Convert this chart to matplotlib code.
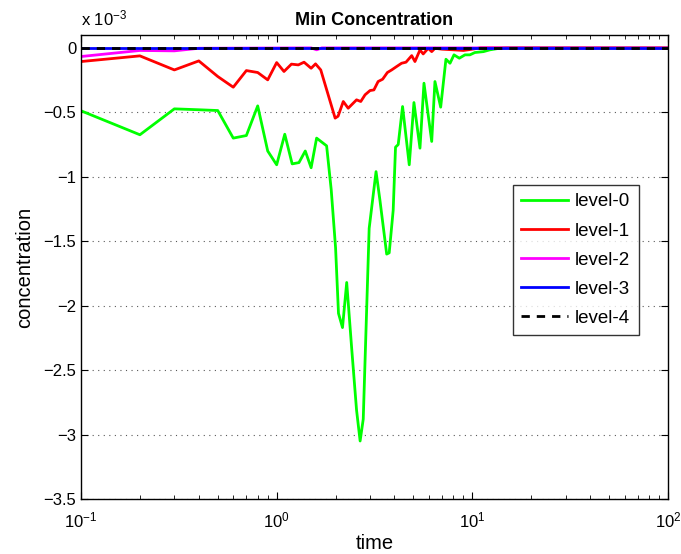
import matplotlib
matplotlib.use("Agg")
import matplotlib.pyplot as plt
from matplotlib.ticker import FuncFormatter, LogLocator, FixedLocator

plt.rcParams['font.family'] = ['Liberation Sans', 'DejaVu Sans']
plt.rcParams['mathtext.fontset'] = 'custom'
plt.rcParams['mathtext.rm'] = 'Liberation Sans'
plt.rcParams['mathtext.it'] = 'Liberation Sans:italic'
plt.rcParams['mathtext.bf'] = 'Liberation Sans:bold'

# values in units of 1e-3
t_level0 = [0.1, 0.2, 0.3, 0.4, 0.5, 0.6, 0.7, 0.8, 0.9, 1.0, 1.1, 1.2, 1.3, 1.4, 1.5, 1.6,
            1.8, 1.9, 2.0, 2.07, 2.17, 2.28, 2.42, 2.56, 2.67, 2.77, 2.97, 3.22, 3.37, 3.65,
            3.76, 3.94, 4.05, 4.18, 4.40, 4.76, 5.03, 5.40, 5.66, 6.20, 6.44, 6.89, 7.33,
            7.69, 8.06, 8.58, 9.17, 9.72, 10.3, 11.4, 12.3, 13.5, 15.0, 20.0, 50.0, 100.0]
c_level0 = [-0.488, -0.674, -0.473, -0.48, -0.486, -0.70, -0.68, -0.45, -0.80, -0.907,
            -0.67, -0.90, -0.89, -0.80, -0.93, -0.70, -0.76, -1.10, -1.55, -2.06, -2.17,
            -1.82, -2.34, -2.81, -3.05, -2.88, -1.40, -0.96, -1.18, -1.60, -1.59, -1.26,
            -0.77, -0.75, -0.455, -0.907, -0.424, -0.778, -0.274, -0.726, -0.261, -0.46,
            -0.088, -0.119, -0.054, -0.08, -0.054, -0.054, -0.036, -0.029, -0.015, -0.005,
            0.0, 0.0, 0.0, 0.0]

t_level1 = [0.1, 0.2, 0.3, 0.4, 0.5, 0.6, 0.7, 0.8, 0.9, 1.0, 1.09, 1.19, 1.29, 1.38, 1.5,
            1.58, 1.68, 1.99, 2.06, 2.19, 2.32, 2.56, 2.69, 2.83, 3.0, 3.14, 3.3, 3.48, 3.68,
            3.87, 4.1, 4.35, 4.58, 4.9, 5.09, 5.4, 5.61, 5.95, 6.2, 6.44, 7.0, 8.0, 9.0, 10.0,
            11.0, 100.0]
c_level1 = [-0.106, -0.062, -0.171, -0.101, -0.222, -0.305, -0.176, -0.191, -0.248, -0.114,
            -0.183, -0.126, -0.132, -0.111, -0.158, -0.124, -0.171, -0.545, -0.53, -0.416,
            -0.468, -0.403, -0.416, -0.364, -0.331, -0.326, -0.261, -0.243, -0.191, -0.171,
            -0.145, -0.119, -0.111, -0.06, -0.106, -0.016, -0.047, -0.003, -0.029, -0.003,
            -0.01, -0.015, -0.02, -0.01, 0.0, 0.0]

t_level2 = [0.1, 0.2, 0.3, 0.4, 1.5, 1.6, 1.7, 100.0]
c_level2 = [-0.067, -0.02, -0.023, -0.003, 0.0, -0.015, 0.0, 0.0]

t_level3 = [0.1, 100.0]
c_level3 = [0.0, 0.0]

t_level4 = [0.1, 100.0]
c_level4 = [0.0, 0.0]

labels = ['level-0', 'level-1', 'level-2', 'level-3', 'level-4']
y_ticks = [-3.5, -3.0, -2.5, -2.0, -1.5, -1.0, -0.5, 0.0]

fig = plt.figure(figsize=(6.81, 5.54), dpi=100)
ax = fig.add_axes([81/681, 1-499/554, 587/681, 464/554])

lw = 2.0
ax.plot(t_level0, c_level0, color='#00ff00', lw=lw, label=labels[0])
ax.plot(t_level1, c_level1, color='#ff0000', lw=lw, label=labels[1])
ax.plot(t_level2, c_level2, color='#ff00ff', lw=lw, label=labels[2])
ax.plot(t_level3, c_level3, color='#0000ff', lw=lw, label=labels[3])
ax.plot(t_level4, c_level4, color='black', lw=lw, ls=(0, (3, 2.5)), label=labels[4])

ax.set_xscale('log')
ax.set_xlim(0.1, 100)
ax.set_ylim(-3.5, 0.1)
ax.yaxis.set_major_locator(FixedLocator(y_ticks))
ax.yaxis.set_major_formatter(FuncFormatter(lambda v, p: ('%g' % v).replace('-', '\u2212')))
ax.xaxis.set_major_locator(LogLocator(base=10, numticks=10))
ax.xaxis.set_minor_locator(LogLocator(base=10, subs=range(2, 10), numticks=20))

ax.tick_params(which='both', direction='in', top=True, right=True, labelsize=12)
ax.tick_params(which='major', length=5, width=0.8)
ax.tick_params(which='minor', length=3, width=0.6)
ax.tick_params(axis='y', which='minor', left=False, right=False)
ax.tick_params(axis='x', pad=8)

ax.yaxis.grid(True, linestyle=(0, (1, 4)), color='0.35', lw=0.8)
ax.set_axisbelow(True)
for s in ax.spines.values():
    s.set_linewidth(1.0)

ax.set_title('Min Concentration', fontsize=13, fontweight='bold', pad=7.5)
ax.set_xlabel('time', fontsize=14.5, labelpad=3)
ax.set_ylabel('concentration', fontsize=14.5, labelpad=6.5)
ax.text(0.0, 1.015, 'x 10$^{\u22123}$', transform=ax.transAxes, fontsize=12,
        ha='left', va='bottom')

leg = ax.legend(loc='upper left', bbox_to_anchor=(0.736, 0.677), borderaxespad=0,
                fontsize=13.5, frameon=True, fancybox=False, edgecolor='black',
                handlelength=2.5, handletextpad=0.35, labelspacing=0.64, borderpad=0.45)
leg.get_frame().set_linewidth(1.0)

fig.savefig('out.png', dpi=100)
